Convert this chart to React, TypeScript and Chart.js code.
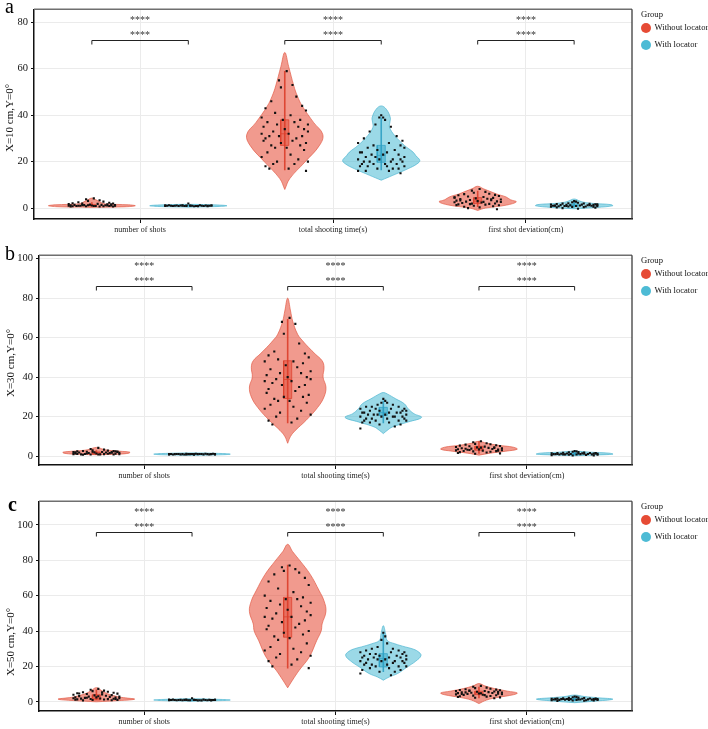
import React, { useEffect, useRef } from "react";
import { Chart, registerables } from "chart.js";

Chart.register(...registerables);

const FONT = '"Liberation Serif", "DejaVu Serif", serif';

const CATEGORIES = ["number of shots", "total shooting time(s)", "first shot deviation(cm)"];
const GROUPS = ["Without locator", "With locator"];
const LEGEND_TITLE = "Group";
const SIG_LABEL = "****";
const GROUP_COLORS = ["#E64B35", "#4DBBD5"];
const VIOLIN_FILLS = ["rgba(230, 75, 53, 0.56)", "rgba(77, 187, 213, 0.56)"];
const VIOLIN_LINES = ["rgba(226, 88, 66, 0.85)", "rgba(72, 180, 208, 0.85)"];
const BOX_FILLS = ["rgba(222, 60, 40, 0.45)", "rgba(40, 160, 195, 0.45)"];
const BOX_LINES = ["rgba(220, 62, 42, 0.9)", "rgba(45, 160, 195, 0.9)"];
const DODGE = [-0.25, 0.25];
const BOX_HALF = 0.021;

const Y_TICKS_A = [0, 20, 40, 60, 80];
const Y_TICKS_BC = [0, 20, 40, 60, 80, 100];

// jitter offsets (category units)
const JITTER_1 = [0.01,-0.03,0.04,-0.02,0.06,-0.07,0.09,-0.10,0.11,-0.05,0.03,-0.12,0.08,-0.01,0.05,-0.09,0.12,-0.04,0.07,-0.11,0.00,0.10,-0.06,0.12,-0.12,0.02,-0.08,0.09,-0.03,0.06,-0.10,0.04,-0.11,0.11,-0.02,0.08,-0.07,0.01,-0.05,0.10,-0.09,0.03,-0.12,0.07,-0.04,0.12,-0.06,0.05,-0.10,0.02,-0.08,0.11,-0.01,0.09,-0.11,0.06,-0.03,0.04,-0.07,0.10];
const JITTER_2 = [0.00,0.01,-0.01,0.02,-0.03,0.05,-0.06,0.08,-0.09,0.11,-0.12,0.04,-0.04,0.10,-0.07,0.12,-0.02,0.07,-0.10,0.03,-0.11,0.09,-0.05,0.01,-0.08,0.12,-0.03,0.06,-0.12,0.10,-0.01,0.05,-0.09,0.11,-0.06,0.02,-0.10,0.08,-0.04,0.12,-0.07,0.03,-0.11,0.09,-0.02,0.06,-0.12,0.04,-0.08,0.10,-0.05,0.11,-0.03,0.07,-0.09,0.01,-0.10,0.05,-0.06,0.12];

// ---- Panel a (X=10 cm) : violin profiles [y, half width] ----
const A_SHOTS_WO_VIOLIN = [[0.3,0],[0.6,0.18],[1,0.225],[1.4,0.19],[1.8,0.07],[2.3,0.05],[3,0.035],[3.6,0.02],[4.3,0]];
const A_SHOTS_W_VIOLIN = [[0.4,0],[0.7,0.16],[1,0.2],[1.3,0.16],[1.6,0]];
const A_TIME_WO_VIOLIN = [[8,0],[12.7,0.026],[19.8,0.104],[27,0.18],[31.7,0.197],[36.8,0.15],[44,0.09],[48.3,0.065],[52.6,0.047],[61,0.02],[67,0]];
const A_TIME_W_VIOLIN = [[12,0],[14.1,0.06],[17,0.14],[19,0.185],[20.5,0.2],[22.5,0.18],[24.1,0.165],[27,0.12],[31.2,0.07],[34.8,0.043],[37,0.045],[39,0.047],[42.6,0.026],[44,0]];
const A_DEV_WO_VIOLIN = [[-1,0],[0,0.04],[1.3,0.15],[2.7,0.2],[3.6,0.17],[4.8,0.147],[6,0.1],[7,0.07],[8.3,0.03],[9.4,0]];
const A_DEV_W_VIOLIN = [[-0.3,0],[0.3,0.12],[1,0.2],[1.5,0.19],[2,0.1],[2.5,0.05],[3,0.03],[3.9,0]];

const A_SHOTS_WO_POINTS = [4.2,3.8,3.4,3.1,2.8,2.5,2.3,2.1,2.0,1.9,1.8,1.7,1.6,1.5,1.4,1.4,1.3,1.3,1.2,1.2,1.1,1.1,1.0,1.0,1.0,0.9,0.9,0.9,0.8,0.8,0.8,0.7,0.7,0.7,1.2,1.1,1.0,0.9,1.3,1.6];
const A_SHOTS_W_POINTS = [2.0,1.1,0.9,1.0,1.2,0.8,1.1,0.9,1.0,1.0,1.2,0.9,1.1,0.8,1.0,1.1,0.9,1.0,1.2,0.8,1.0,1.1,0.9,1.0,0.9,1.1,1.0,1.2,0.9,1.0,1.1,0.9];
const A_TIME_WO_POINTS = [59,55,53,52,48,46,44,43,42,41,40,39,38,38,37,37,36,36,35,35,34,34,33,33,32,32,31,31,31,30,30,29,29,28,28,27,27,26,26,25,24,23,22,21,20,20,19,19,18,17,17,16];
const A_TIME_W_POINTS = [40,39,39,38,36,35,33,31,30,29,28,28,27,27,26,26,25,25,24,24,24,23,23,23,22,22,22,21,21,21,21,20,20,20,20,19,19,19,19,18,18,18,18,17,17,17,16,16,16,15];
const A_DEV_WO_POINTS = [8.2,7.5,7.0,6.6,6.2,6.0,5.7,5.5,5.2,5.0,4.8,4.6,4.4,4.2,4.0,3.9,3.7,3.5,3.4,3.2,3.0,2.9,2.8,2.6,2.5,2.4,2.2,2.0,1.9,1.8,1.6,1.5,1.3,1.2,1.0,0.8,0.6,0.3,0.0,-0.5,3.3,2.7,4.5,3.8,1.7];
const A_DEV_W_POINTS = [3.0,2.8,2.5,2.3,2.1,2.0,1.9,1.8,1.7,1.6,1.5,1.5,1.4,1.4,1.3,1.3,1.2,1.2,1.1,1.1,1.0,1.0,0.9,0.9,0.8,0.8,0.7,0.7,0.6,0.6,0.5,0.4,0.3,0.2,0.0,-0.3,1.0,1.3,0.9,1.6];

// box: [low whisker, q1, median, q3, high whisker]
const A_SHOTS_WO_BOX = [1, 1, 1, 1.5, 2.5];
const A_SHOTS_W_BOX = [1, 1, 1, 1, 1];
const A_TIME_WO_BOX = [16.3, 27, 32, 38, 59];
const A_TIME_W_BOX = [16.3, 19.7, 22.7, 27, 39];
const A_DEV_WO_BOX = [0.5, 2, 3, 4.5, 7.5];
const A_DEV_W_BOX = [0.3, 0.8, 1.2, 1.8, 2.8];
const A_BRACKET_Y = [72.3, 72.3, 72.3];

// ---- Panel b (X=30 cm) ----
const B_SHOTS_WO_VIOLIN = [[0.7,0],[1,0.12],[1.5,0.17],[2,0.175],[2.5,0.12],[3,0.06],[3.5,0.035],[4.4,0]];
const B_SHOTS_W_VIOLIN = [[0.4,0],[0.7,0.16],[1,0.2],[1.3,0.16],[1.6,0]];
const B_TIME_WO_VIOLIN = [[6.5,0],[10,0.015],[13,0.04],[18,0.095],[24.7,0.157],[30,0.19],[35,0.2],[40,0.185],[45,0.19],[48.3,0.18],[51.7,0.144],[55,0.11],[58.4,0.078],[61.7,0.052],[68.4,0.026],[73.5,0.015],[80,0]];
const B_TIME_W_VIOLIN = [[11.4,0],[13,0.02],[14.8,0.048],[17.3,0.13],[19.6,0.2],[21.5,0.16],[24,0.13],[26.5,0.11],[29,0.065],[31.5,0.02],[32.2,0]];
const B_DEV_WO_VIOLIN = [[0.5,0],[1.5,0.06],[2.5,0.14],[3.5,0.2],[4.5,0.18],[5.5,0.1],[6.5,0.04],[7.5,0]];
const B_DEV_W_VIOLIN = [[0.2,0],[0.6,0.12],[1,0.2],[1.5,0.18],[2,0.08],[2.5,0]];

const B_SHOTS_WO_POINTS = [4.2,3.6,3.3,3.0,2.8,2.6,2.5,2.4,2.3,2.2,2.1,2.0,2.0,1.9,1.8,1.8,1.7,1.6,1.5,1.4,1.3,1.2,1.1,1.0,1.0,0.9,0.9,0.8,0.8,1.2,1.1,1.0,1.9,2.1,2.2,1.7,0.7,0.8,1.3,2.4];
const B_SHOTS_W_POINTS = [1.1,0.9,1.0,1.2,0.8,1.1,0.9,1.0,1.0,1.2,0.9,1.1,0.8,1.0,1.1,0.9,1.0,1.2,0.8,1.0,1.1,0.9,1.0,0.9,1.1,1.0,1.2,0.9,1.0,1.1];
const B_TIME_WO_POINTS = [70,68,67,62,57,53,52,51,50,49,48,48,47,46,45,44,43,42,42,41,40,40,39,39,38,38,37,36,36,35,34,33,32,31,30,30,29,28,28,27,26,25,24,23,22,21,20,19,18,17,16];
const B_TIME_W_POINTS = [29,28,27,27,26,26,25,25,25,24,24,24,24,23,23,23,23,22,22,22,22,22,21,21,21,21,21,20,20,20,20,20,19,19,19,19,18,18,18,18,17,17,17,16,16,15,14];
const B_DEV_WO_POINTS = [7.5,7.0,6.5,6.2,6.0,5.8,5.5,5.3,5.1,5.0,4.8,4.6,4.5,4.4,4.2,4.0,3.9,3.8,3.6,3.5,3.4,3.3,3.2,3.0,2.9,2.8,2.6,2.5,2.4,2.2,2.0,1.8,1.6,1.4,1.2,4.1,3.7,4.3,3.1,2.7];
const B_DEV_W_POINTS = [2.6,2.4,2.2,2.0,1.9,1.8,1.7,1.6,1.5,1.5,1.4,1.4,1.3,1.3,1.2,1.2,1.1,1.1,1.0,1.0,1.0,0.9,0.9,0.8,0.8,0.7,0.7,0.6,0.5,0.4,0.3,1.2,1.1,1.4,0.9,1.3];

const B_SHOTS_WO_BOX = [1, 1, 2, 2, 3];
const B_SHOTS_W_BOX = [1, 1, 1, 1, 1];
const B_TIME_WO_BOX = [16.6, 29.2, 38.8, 48.3, 69.4];
const B_TIME_W_BOX = [16.6, 20.6, 22, 24.7, 28.2];
const B_DEV_WO_BOX = [1.2, 3, 4, 5, 7.5];
const B_DEV_W_BOX = [0.3, 0.8, 1.2, 1.6, 2.5];
const B_BRACKET_Y = [86, 86, 86];

// ---- Panel c (X=50 cm) ----
const C_SHOTS_WO_VIOLIN = [[0,0],[0.7,0.12],[1.5,0.2],[2.5,0.13],[3.5,0.09],[4.5,0.06],[5.5,0.04],[6.5,0.025],[8,0]];
const C_SHOTS_W_VIOLIN = [[0.3,0],[0.7,0.16],[1,0.2],[1.3,0.16],[1.7,0]];
const C_TIME_WO_VIOLIN = [[7.9,0],[12.2,0.025],[17.8,0.06],[25.3,0.113],[34.7,0.152],[40,0.175],[44,0.18],[51,0.2],[57,0.19],[62.7,0.165],[72,0.118],[79.6,0.065],[85,0.025],[89,0]];
const C_TIME_W_VIOLIN = [[12.2,0],[14,0.03],[16,0.075],[19.7,0.125],[23,0.17],[26.2,0.197],[28.5,0.18],[30,0.15],[31,0.115],[32.8,0.06],[34.7,0.02],[38.4,0.012],[43,0]];
const C_DEV_WO_VIOLIN = [[-1,0],[1,0.04],[2.5,0.1],[4,0.18],[5,0.2],[6,0.15],[7.5,0.08],[9,0.03],[10.3,0]];
const C_DEV_W_VIOLIN = [[-0.5,0],[0.5,0.12],[1.5,0.2],[2.3,0.12],[3,0.05],[3.8,0]];

const C_SHOTS_WO_POINTS = [7.3,6.8,6.3,6.0,5.7,5.4,5.1,4.8,4.6,4.4,4.2,4.0,3.8,3.6,3.4,3.2,3.0,2.9,2.8,2.6,2.5,2.4,2.2,2.1,2.0,1.9,1.8,1.7,1.6,1.5,1.4,1.3,1.2,1.1,1.0,0.9,0.8,3.1,2.3,1.6,4.7,5.3];
const C_SHOTS_W_POINTS = [2.0,1.1,0.9,1.0,1.2,0.8,1.1,0.9,1.0,1.0,1.2,0.9,1.1,0.8,1.0,1.1,0.9,1.0,1.2,0.8,1.0,1.1,0.9,1.0,0.9,1.1,1.0,1.2,0.9,1.0];
const C_TIME_WO_POINTS = [77,76,75,74,73,72,70,68,66,64,62,60,59,58,58,57,56,55,54,53,52,51,50,49,48,48,47,46,45,44,43,42,41,40,39,38,37,36,35,33,31,30,29,28,27,26,25,24,23,21,20,19];
const C_TIME_W_POINTS = [39,37,35,33,31,30,30,29,29,28,28,28,27,27,27,26,26,26,26,25,25,25,25,24,24,24,24,23,23,23,23,22,22,22,21,21,21,20,20,20,19,19,18,18,17,17,16,15];
const C_DEV_WO_POINTS = [9.0,8.5,8.0,7.7,7.4,7.1,6.9,6.7,6.5,6.3,6.1,6.0,5.8,5.7,5.5,5.4,5.2,5.1,5.0,4.9,4.7,4.6,4.5,4.3,4.2,4.0,3.9,3.7,3.5,3.3,3.1,2.9,2.7,2.5,2.3,2.0,5.3,4.8,6.2,5.6,4.4,3.8];
const C_DEV_W_POINTS = [3.0,2.8,2.6,2.4,2.2,2.1,2.0,1.9,1.8,1.8,1.7,1.7,1.6,1.6,1.5,1.5,1.5,1.4,1.4,1.3,1.3,1.2,1.2,1.1,1.1,1.0,1.0,0.9,0.9,0.8,0.7,0.6,0.5,1.5,1.6,1.4,1.7];

const C_SHOTS_WO_BOX = [1, 1, 2, 4, 7];
const C_SHOTS_W_BOX = [1, 1, 1, 1, 1];
const C_TIME_WO_BOX = [18.8, 36.5, 48, 59, 77.4];
const C_TIME_W_BOX = [16.9, 19.7, 24.4, 27.2, 39.3];
const C_DEV_WO_BOX = [2, 4, 5, 6, 8.5];
const C_DEV_W_BOX = [0.5, 1, 1.5, 2, 3];
const C_BRACKET_Y = [96, 96, 96];

type Profile = number[][];
interface PanelDef {
  letter: string;
  letterFont: string;
  letterX: number;
  letterY: number;
  yTitle: string;
  yTitleX: number;
  yTitleY: number;
  yMin: number;
  yMax: number;
  yTicks: number[];
  axisWidth: number;
  violins: Profile[][];
  points: number[][][];
  boxes: number[][][];
  bracketY: number[];
}

const PANELS: PanelDef[] = [
  {
    letter: "a", letterFont: `20px ${FONT}`, letterX: 5, letterY: 13,
    yTitle: "X=10 cm,Y=0°", yTitleX: 10, yTitleY: 118,
    yMin: -4.7, yMax: 85.6, yTicks: Y_TICKS_A, axisWidth: 34,
    violins: [[A_SHOTS_WO_VIOLIN, A_SHOTS_W_VIOLIN], [A_TIME_WO_VIOLIN, A_TIME_W_VIOLIN], [A_DEV_WO_VIOLIN, A_DEV_W_VIOLIN]],
    points: [[A_SHOTS_WO_POINTS, A_SHOTS_W_POINTS], [A_TIME_WO_POINTS, A_TIME_W_POINTS], [A_DEV_WO_POINTS, A_DEV_W_POINTS]],
    boxes: [[A_SHOTS_WO_BOX, A_SHOTS_W_BOX], [A_TIME_WO_BOX, A_TIME_W_BOX], [A_DEV_WO_BOX, A_DEV_W_BOX]],
    bracketY: A_BRACKET_Y,
  },
  {
    letter: "b", letterFont: `20px ${FONT}`, letterX: 5, letterY: 14,
    yTitle: "X=30 cm,Y=0°", yTitleX: 11, yTitleY: 117,
    yMin: -4.5, yMax: 101.7, yTicks: Y_TICKS_BC, axisWidth: 39,
    violins: [[B_SHOTS_WO_VIOLIN, B_SHOTS_W_VIOLIN], [B_TIME_WO_VIOLIN, B_TIME_W_VIOLIN], [B_DEV_WO_VIOLIN, B_DEV_W_VIOLIN]],
    points: [[B_SHOTS_WO_POINTS, B_SHOTS_W_POINTS], [B_TIME_WO_POINTS, B_TIME_W_POINTS], [B_DEV_WO_POINTS, B_DEV_W_POINTS]],
    boxes: [[B_SHOTS_WO_BOX, B_SHOTS_W_BOX], [B_TIME_WO_BOX, B_TIME_W_BOX], [B_DEV_WO_BOX, B_DEV_W_BOX]],
    bracketY: B_BRACKET_Y,
  },
  {
    letter: "c", letterFont: `bold 20px ${FONT}`, letterX: 8, letterY: 19,
    yTitle: "X=50 cm,Y=0°", yTitleX: 11, yTitleY: 150,
    yMin: -5.2, yMax: 113.3, yTicks: Y_TICKS_BC, axisWidth: 39,
    violins: [[C_SHOTS_WO_VIOLIN, C_SHOTS_W_VIOLIN], [C_TIME_WO_VIOLIN, C_TIME_W_VIOLIN], [C_DEV_WO_VIOLIN, C_DEV_W_VIOLIN]],
    points: [[C_SHOTS_WO_POINTS, C_SHOTS_W_POINTS], [C_TIME_WO_POINTS, C_TIME_W_POINTS], [C_DEV_WO_POINTS, C_DEV_W_POINTS]],
    boxes: [[C_SHOTS_WO_BOX, C_SHOTS_W_BOX], [C_TIME_WO_BOX, C_TIME_W_BOX], [C_DEV_WO_BOX, C_DEV_W_BOX]],
    bracketY: C_BRACKET_Y,
  },
];

const PANEL_TOPS = [0, 246, 492];
const CANVAS_W = 708;
const CANVAS_H = 237;

function buildDatasets(p: PanelDef) {
  const ds: any[] = [];
  const JITTERS = [JITTER_1, JITTER_2];
  CATEGORIES.forEach((_, ci) => {
    GROUPS.forEach((_, gi) => {
      const c = ci + 1 + DODGE[gi];
      const prof = p.violins[ci][gi];
      const right = prof.map(([y, w]) => ({ x: c + w, y }));
      const left = prof.slice(0, -1).reverse().map(([y, w]) => ({ x: c - w, y }));
      ds.push({
        type: "line", data: right.concat(left), fill: "shape",
        backgroundColor: VIOLIN_FILLS[gi], borderColor: VIOLIN_LINES[gi], borderWidth: 0.8,
        pointRadius: 0, tension: 0.4, order: 10,
      });
      const [lo, q1, med, q3, hi] = p.boxes[ci][gi];
      ds.push({
        type: "line", data: [{ x: c, y: lo }, { x: c, y: hi }], fill: false,
        borderColor: BOX_LINES[gi], borderWidth: 1.6, pointRadius: 0, tension: 0, order: 8,
      });
      ds.push({
        type: "line",
        data: [
          { x: c - BOX_HALF, y: q1 }, { x: c + BOX_HALF, y: q1 }, { x: c + BOX_HALF, y: q3 },
          { x: c - BOX_HALF, y: q3 }, { x: c - BOX_HALF, y: q1 },
        ],
        fill: "shape", backgroundColor: BOX_FILLS[gi], borderColor: BOX_LINES[gi], borderWidth: 0.8,
        pointRadius: 0, tension: 0, order: 7,
      });
      ds.push({
        type: "line", data: [{ x: c - BOX_HALF, y: med }, { x: c + BOX_HALF, y: med }], fill: false,
        borderColor: BOX_LINES[gi], borderWidth: 0.8, pointRadius: 0, tension: 0, order: 6,
      });
      const jit = JITTERS[gi];
      ds.push({
        type: "line", showLine: false,
        data: p.points[ci][gi].map((y, i) => ({ x: c + jit[i % jit.length], y })),
        pointRadius: 1.5, pointStyle: "rect", pointBackgroundColor: "#111", pointBorderWidth: 0,
        order: 1,
      });
    });
  });
  return ds;
}

function decorPlugin(p: PanelDef) {
  return {
    id: "decor",
    afterDatasetsDraw(chart: any) {
      const { ctx, scales } = chart;
      const xs = scales.x;
      const ys = scales.y;
      ctx.save();
      CATEGORIES.forEach((_, ci) => {
        const yb = Math.round(ys.getPixelForValue(p.bracketY[ci])) + 0.5;
        const x1 = xs.getPixelForValue(ci + 1 + DODGE[0]);
        const x2 = xs.getPixelForValue(ci + 1 + DODGE[1]);
        const xc = xs.getPixelForValue(ci + 1);
        ctx.strokeStyle = "#222";
        ctx.lineWidth = 1;
        ctx.beginPath();
        ctx.moveTo(x1, yb + 4);
        ctx.lineTo(x1, yb);
        ctx.lineTo(x2, yb);
        ctx.lineTo(x2, yb + 4);
        ctx.stroke();
        ctx.fillStyle = "#333";
        ctx.font = `10px ${FONT}`;
        ctx.textAlign = "center";
        ctx.textBaseline = "middle";
        ctx.fillText(SIG_LABEL, xc, yb - 7 + 1.7);
        ctx.fillText(SIG_LABEL, xc, yb - 21.5 + 1.7);
      });
      ctx.restore();
    },
    afterDraw(chart: any) {
      const { ctx, chartArea: a } = chart;
      ctx.save();
      ctx.lineWidth = 1.6;
      ctx.strokeStyle = "#6f6f6f";
      ctx.beginPath();
      ctx.moveTo(a.left, a.top);
      ctx.lineTo(a.right, a.top);
      ctx.stroke();
      ctx.lineWidth = 1.3;
      ctx.strokeStyle = "#3c3c3c";
      ctx.beginPath();
      ctx.moveTo(a.right, a.top);
      ctx.lineTo(a.right, a.bottom);
      ctx.stroke();

      ctx.fillStyle = "#000";
      ctx.font = p.letterFont;
      ctx.textAlign = "left";
      ctx.textBaseline = "alphabetic";
      ctx.fillText(p.letter, p.letterX, p.letterY);

      ctx.save();
      ctx.translate(p.yTitleX, p.yTitleY);
      ctx.rotate(-Math.PI / 2);
      ctx.font = `11px ${FONT}`;
      ctx.textAlign = "center";
      ctx.textBaseline = "middle";
      ctx.fillStyle = "#111";
      ctx.fillText(p.yTitle, 0, 0);
      ctx.restore();

      ctx.font = `8.6px ${FONT}`;
      ctx.textAlign = "left";
      ctx.textBaseline = "middle";
      ctx.fillStyle = "#111";
      ctx.fillText(LEGEND_TITLE, a.right + 9, 15);
      GROUPS.forEach((g, gi) => {
        const cy = 28 + gi * 17;
        ctx.beginPath();
        ctx.arc(a.right + 14, cy, 5, 0, Math.PI * 2);
        ctx.fillStyle = GROUP_COLORS[gi];
        ctx.fill();
        ctx.fillStyle = "#111";
        ctx.fillText(g, a.right + 22.5, cy);
      });
      ctx.restore();
    },
  };
}

function buildConfig(p: PanelDef): any {
  return {
    type: "line",
    data: { datasets: buildDatasets(p) },
    options: {
      animation: false,
      responsive: false,
      events: [],
      layout: { padding: { top: 8, right: 76, left: 0, bottom: 0 } },
      plugins: { legend: { display: false }, tooltip: { enabled: false } },
      scales: {
        x: {
          type: "linear",
          min: 0.45,
          max: 3.55,
          afterBuildTicks: (s: any) => {
            s.ticks = CATEGORIES.map((_, i) => ({ value: i + 1 }));
          },
          afterFit: (s: any) => {
            s.height = 18;
          },
          ticks: {
            callback: (v: any) => CATEGORIES[Math.round(Number(v)) - 1] ?? "",
            font: { family: FONT, size: 8 },
            color: "#222",
            padding: 2,
            maxRotation: 0,
            autoSkip: false,
          },
          grid: { color: "#EBEBEB", lineWidth: 1, tickColor: "#111", tickLength: 4 },
          border: { display: true, color: "#111", width: 1.5 },
        },
        y: {
          type: "linear",
          min: p.yMin,
          max: p.yMax,
          afterBuildTicks: (s: any) => {
            s.ticks = p.yTicks.map((v) => ({ value: v }));
          },
          afterFit: (s: any) => {
            s.width = p.axisWidth;
          },
          ticks: { font: { family: FONT, size: 10.5 }, color: "#111", padding: 3 },
          grid: { color: "#EBEBEB", lineWidth: 1, tickColor: "#111", tickLength: 3 },
          border: { display: true, color: "#111", width: 1.5 },
        },
      },
    },
    plugins: [decorPlugin(p)],
  };
}

function Panel({ def, top }: { def: PanelDef; top: number }) {
  const ref = useRef<HTMLCanvasElement>(null);
  useEffect(() => {
    if (!ref.current) return;
    const chart = new Chart(ref.current, buildConfig(def));
    return () => chart.destroy();
  }, [def]);
  return (
    <canvas
      ref={ref}
      width={CANVAS_W}
      height={CANVAS_H}
      style={{ position: "absolute", left: 0, top, width: CANVAS_W, height: CANVAS_H, display: "block" }}
    />
  );
}

export default function App() {
  return (
    <div style={{ position: "absolute", left: 0, top: 0, width: 708, height: 729, background: "#fff", overflow: "hidden" }}>
      {PANELS.map((p, i) => (
        <Panel key={p.letter} def={p} top={PANEL_TOPS[i]} />
      ))}
    </div>
  );
}
